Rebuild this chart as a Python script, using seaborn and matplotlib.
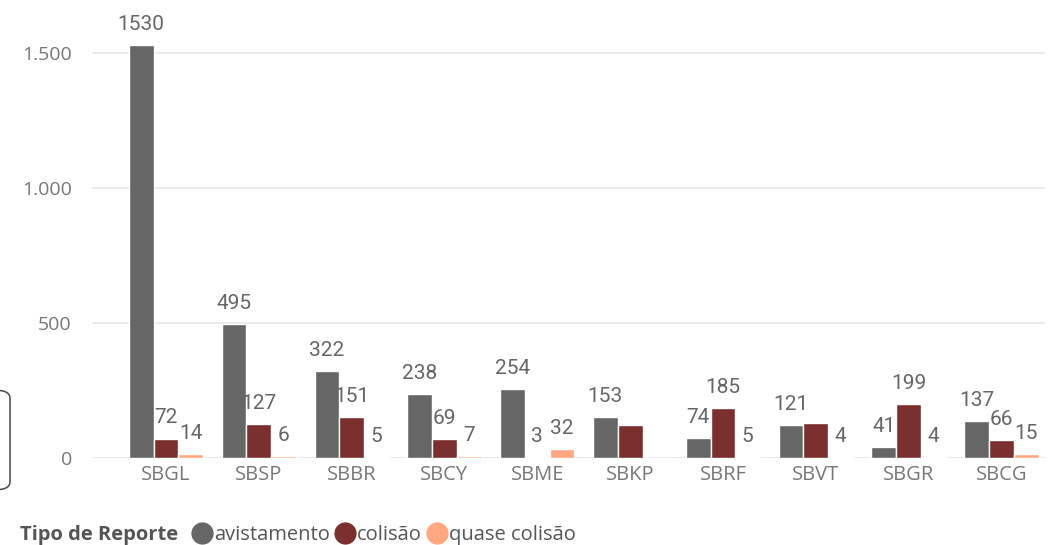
import matplotlib
matplotlib.use('Agg')

import numpy as np
import pandas as pd
import matplotlib.pyplot as plt
import seaborn as sns
from matplotlib.patches import FancyBboxPatch
from matplotlib.lines import Line2D

# dados
aeroportos = ['SBGL', 'SBSP', 'SBBR', 'SBCY', 'SBME', 'SBKP', 'SBRF', 'SBVT', 'SBGR', 'SBCG']
tipos = ['avistamento', 'colisão', 'quase colisão']
avistamento = [1530, 495, 322, 238, 254, 153, 74, 121, 41, 137]
colisao = [72, 127, 151, 69, 3, 124, 185, 128, 199, 66]
quase_colisao = [14, 6, 5, 7, 32, 0, 5, 4, 4, 15]
# barras que aparecem sem rótulo no original
sem_rotulo = {'colisão': ['SBKP', 'SBVT'], 'quase colisão': ['SBKP']}

cores = ['#666666', '#7B2F2F', '#FFA882']

df = pd.DataFrame({
    'Aeroporto': aeroportos * 3,
    'Tipo': sum([[t] * len(aeroportos) for t in tipos], []),
    'Qtd': avistamento + colisao + quase_colisao,
})

sns.set_theme(style='white')
plt.rcParams['font.family'] = ['Open Sans', 'DejaVu Sans']

fig = plt.figure(figsize=(10.53, 5.45), dpi=100)
ax = fig.add_axes([92 / 1053, 87 / 545, 953 / 1053, 432 / 545])

sns.barplot(data=df, x='Aeroporto', y='Qtd', hue='Tipo', order=aeroportos,
            hue_order=tipos, palette=cores, width=0.8, saturation=1,
            errorbar=None, legend=False, ax=ax)

ax.set_ylim(0, 1600)
ax.set_xlim(-0.797, 9.469)
ax.set_yticks([0, 500, 1000, 1500])
ax.set_yticklabels(['0', '500', '1.000', '1.500'])
ax.yaxis.grid(True, color='#e6e6e6', linewidth=1.2)
ax.set_axisbelow(True)
for s in ax.spines.values():
    s.set_visible(False)
ax.set_xlabel('')
ax.set_ylabel('')
ax.tick_params(axis='both', length=0, colors='#777777', labelsize=14)
ax.tick_params(axis='x', labelsize=14.5)
ax.tick_params(axis='y', pad=14.5)
ax.tick_params(axis='x', pad=5)

# rótulos de dados
for cont, tipo in zip(ax.containers, tipos):
    labels = []
    for ap, v in zip(aeroportos, df[df['Tipo'] == tipo]['Qtd']):
        if ap in sem_rotulo.get(tipo, []):
            labels.append('')
        else:
            labels.append(f'{int(v)}')
    ax.bar_label(cont, labels=labels, padding=8, color='#666666',
                 fontsize=15, fontfamily='Roboto')

# legenda
fig.text(20 / 1053, 1 - 535 / 545, 'Tipo de Reporte', fontsize=14.5,
         fontweight='bold', color='#555555', va='center', ha='left')
handles = [Line2D([], [], marker='o', linestyle='', markersize=15,
                  markerfacecolor=c, markeredgecolor=c) for c in cores]
fig.legend(handles, tipos, loc='center left', ncol=3, frameon=False,
           bbox_to_anchor=(185 / 1053, 1 - 535 / 545), handletextpad=0.15,
           columnspacing=0.3, handlelength=0.9, borderaxespad=0,
           prop={'size': 14.5}, labelcolor='#555555')

# borda arredondada cortada à esquerda
box = FancyBboxPatch((-20 / 1053, 1 - 490 / 545), 30 / 1053, 100 / 545,
                     boxstyle='round,pad=0,rounding_size=0.015',
                     transform=fig.transFigure, facecolor='none',
                     edgecolor='#555555', linewidth=1.2)
fig.patches.append(box)

plt.savefig('out.png', dpi=100)
